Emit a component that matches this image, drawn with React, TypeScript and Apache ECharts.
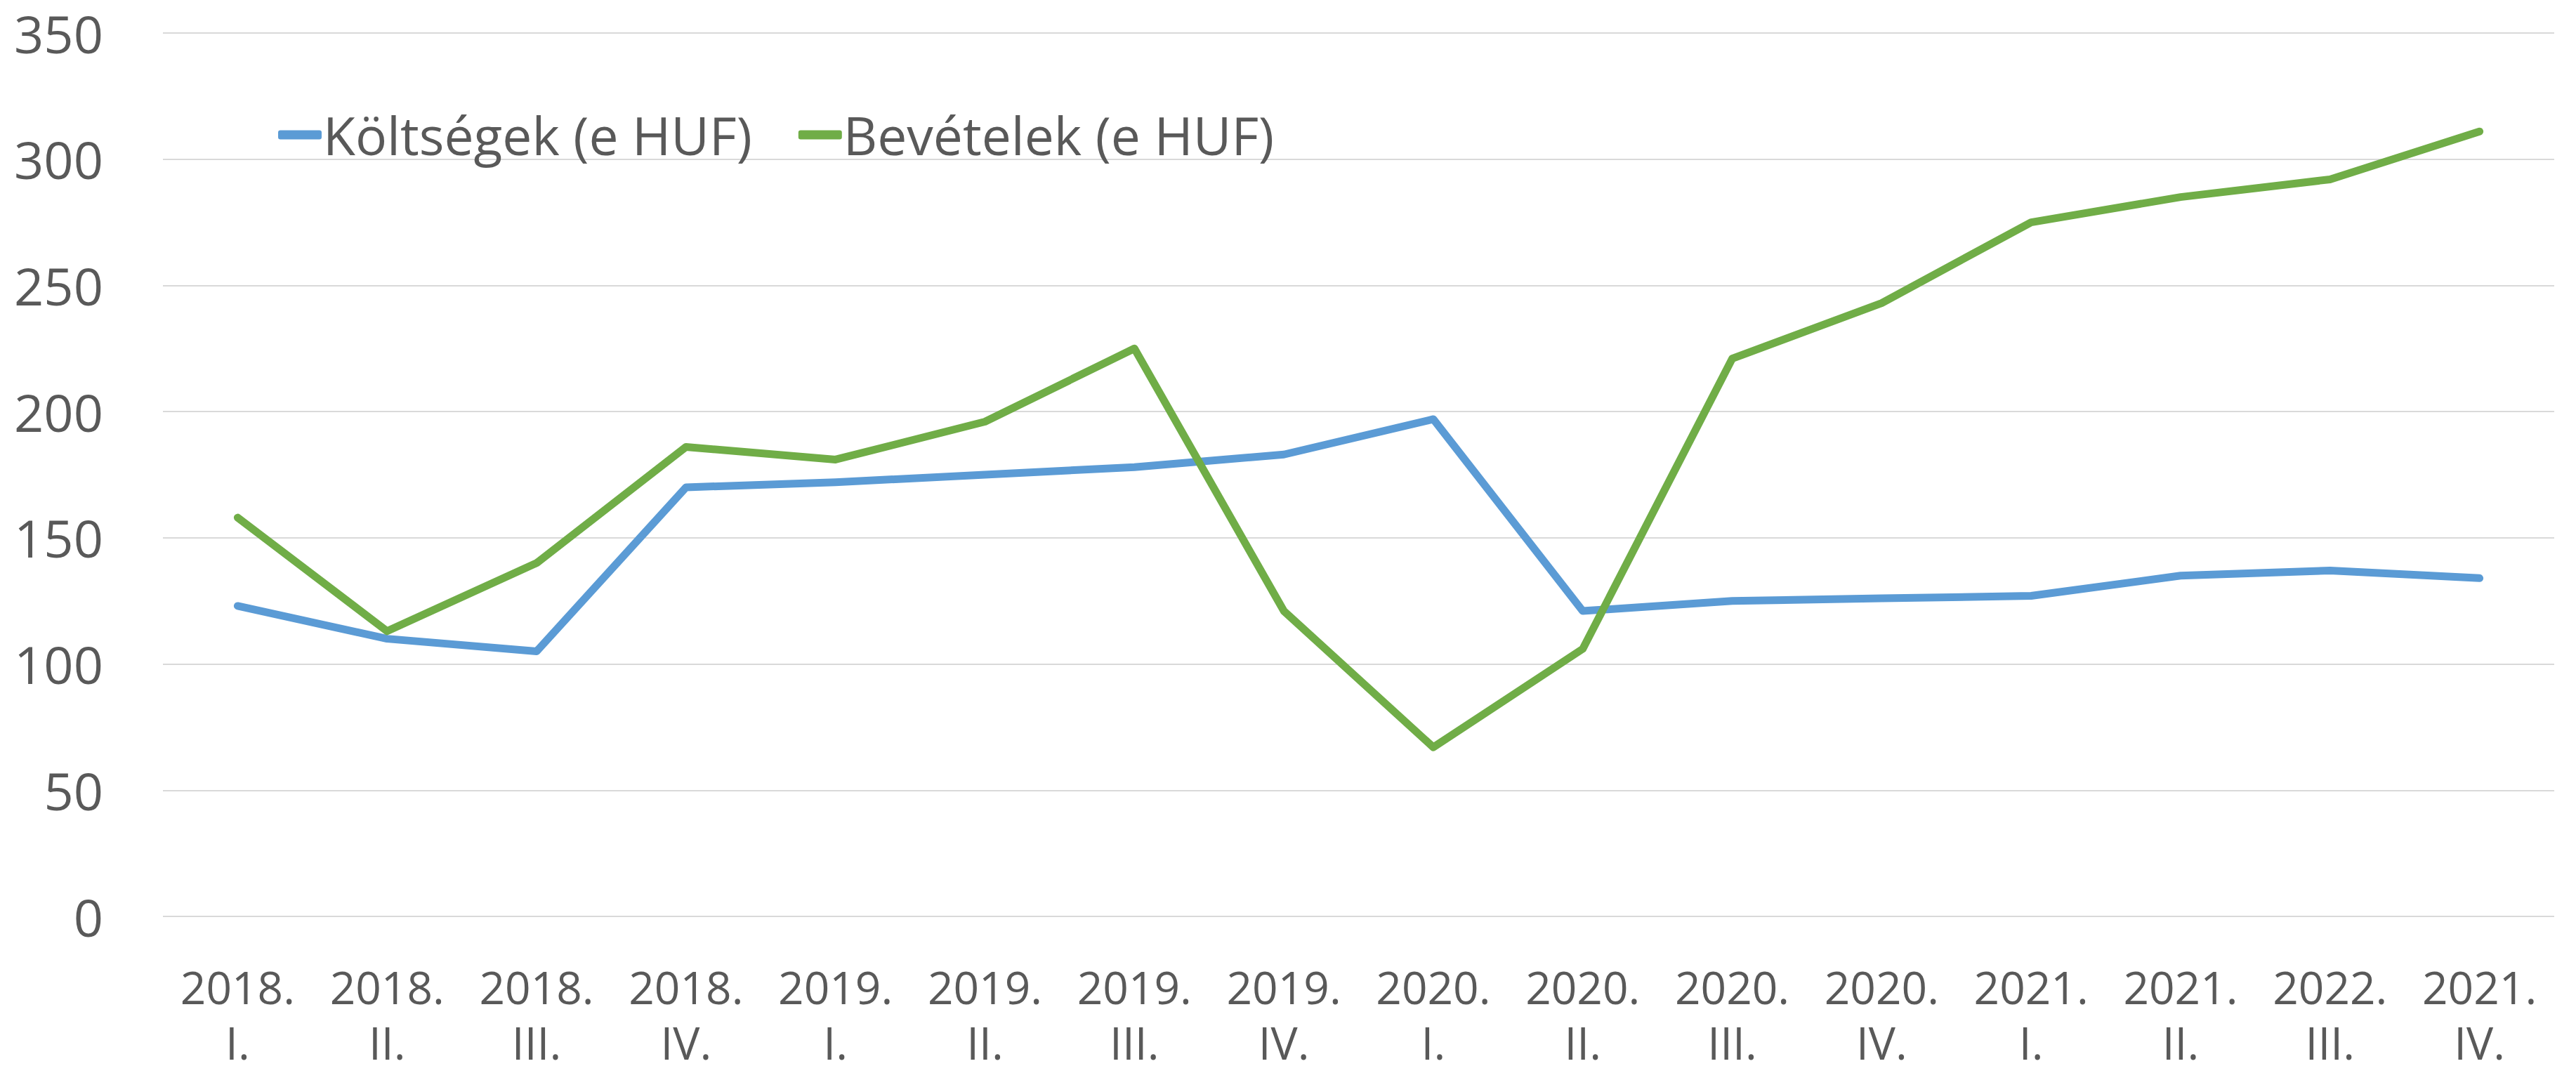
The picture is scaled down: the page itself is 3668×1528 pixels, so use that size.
import React, { useEffect, useRef } from "react";
import * as echarts from "echarts";

const categories = [
  "2018.\nI.", "2018.\nII.", "2018.\nIII.", "2018.\nIV.",
  "2019.\nI.", "2019.\nII.", "2019.\nIII.", "2019.\nIV.",
  "2020.\nI.", "2020.\nII.", "2020.\nIII.", "2020.\nIV.",
  "2021.\nI.", "2021.\nII.", "2022.\nIII.", "2021.\nIV.",
];
const koltsegek = [123, 110, 105, 170, 172, 175, 178, 183, 197, 121, 125, 126, 127, 135, 137, 134];
const bevetelek = [158, 113, 140, 186, 181, 196, 225, 121, 67, 106, 221, 243, 275, 285, 292, 311];
const seriesNames = ["Költségek (e HUF)", "Bevételek (e HUF)"];
const yMin = 0;
const yMax = 350;
const yInterval = 50;

const FONT = "'Open Sans', 'Noto Sans', sans-serif";
const TEXT = "#595959";

export default function App() {
  const ref = useRef<HTMLDivElement>(null);
  useEffect(() => {
    if (!ref.current) return;
    const chart = echarts.init(ref.current, undefined, { renderer: "svg" });
    chart.setOption({
      animation: false,
      backgroundColor: "#ffffff",
      textStyle: { fontFamily: FONT },
      grid: { left: 232, right: 31, top: 47, bottom: 223, containLabel: false },
      legend: {
        left: 396,
        top: 152,
        padding: 0,
        itemGap: 66,
        itemWidth: 62,
        itemHeight: 13,
        icon: "roundRect",
        textStyle: { fontFamily: FONT, fontSize: 75, color: TEXT, lineHeight: 80, padding: [0, 0, 0, -3] },
        data: seriesNames,
      },
      xAxis: {
        type: "category",
        data: categories,
        boundaryGap: true,
        axisLine: { show: false },
        axisTick: { show: false },
        axisLabel: {
          interval: 0,
          margin: 61,
          fontFamily: FONT,
          fontSize: 64,
          lineHeight: 79,
          color: TEXT,
        },
      },
      yAxis: {
        type: "value",
        min: yMin,
        max: yMax,
        interval: yInterval,
        axisLine: { show: false },
        axisTick: { show: false },
        splitLine: { lineStyle: { color: "#D9D9D9", width: 2 } },
        axisLabel: {
          margin: 85,
          fontFamily: FONT,
          fontSize: 74,
          lineHeight: 64,
          color: TEXT,
        },
      },
      series: [
        {
          name: seriesNames[0],
          type: "line",
          data: koltsegek,
          symbol: "none",
          color: "#5B9BD5",
          lineStyle: { color: "#5B9BD5", width: 11, cap: "round", join: "round" },
        },
        {
          name: seriesNames[1],
          type: "line",
          data: bevetelek,
          symbol: "none",
          color: "#70AD47",
          lineStyle: { color: "#70AD47", width: 11, cap: "round", join: "round" },
        },
      ],
    });
    return () => chart.dispose();
  }, []);
  return (
    <div
      ref={ref}
      style={{ position: "fixed", left: 0, top: 0, width: 3668, height: 1528, background: "#fff" }}
    />
  );
}
